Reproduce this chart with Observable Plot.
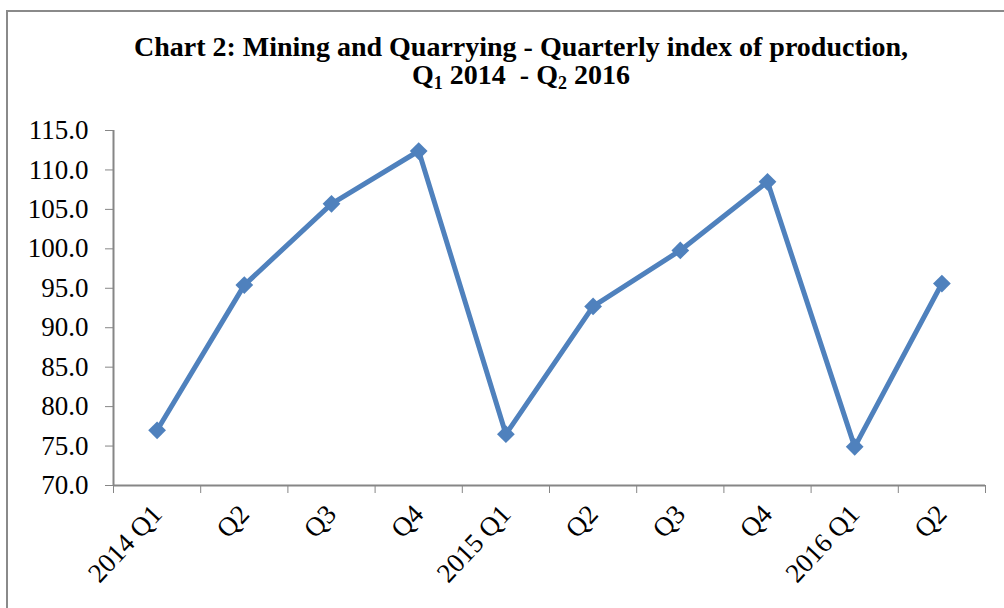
<!DOCTYPE html>
<html>
<head>
<meta charset="utf-8">
<script src="https://cdn.jsdelivr.net/npm/d3@7"></script>
<script src="https://cdn.jsdelivr.net/npm/@observablehq/plot@0.6"></script>
<style>
  html, body { margin: 0; padding: 0; background: white; }
  #wrap { position: relative; width: 1004px; height: 608px; overflow: hidden; background: white; }
  #border { position: absolute; left: 6px; top: 10px; right: -10px; bottom: -10px;
            border-left: 2px solid #8a8a8a; border-top: 2px solid #8a8a8a; pointer-events: none; }
  #title { height: 110px; box-sizing: border-box; padding-top: 33px; padding-left: 38px;
           text-align: center; font-family: "Liberation Serif", "Times New Roman", serif;
           font-weight: bold; font-size: 28px; line-height: 28px; color: black; }
  #title sub { font-size: 18px; line-height: 0; vertical-align: -5px; }
  #chart svg { display: block; }
</style>
</head>
<body>
<div id="wrap">
  <div id="title">Chart 2: Mining and Quarrying - Quarterly index of production,<br>Q<sub>1</sub> 2014&nbsp; - Q<sub>2</sub> 2016</div>
  <div id="chart"></div>
  <div id="border"></div>
</div>
<script>
const categories = ["2014 Q1", "Q2", "Q3", "Q4", "2015 Q1", "Q2", "Q3", "Q4", "2016 Q1", "Q2"];
const values = [77.0, 95.4, 105.7, 112.4, 76.5, 92.7, 99.8, 108.5, 74.9, 95.6];
const yTicks = [70, 75, 80, 85, 90, 95, 100, 105, 110, 115];

const data = values.map((v, i) => ({pos: i + 0.5, value: v, label: categories[i]}));
const boundaries = d3.range(0, categories.length + 1);
const centers = categories.map((_, i) => i + 0.5);

const chart = Plot.plot({
  width: 1004,
  height: 498,
  marginTop: 20,
  marginBottom: 123,
  marginLeft: 113,
  marginRight: 19,
  style: {fontFamily: "'Liberation Serif', 'Times New Roman', serif", fontSize: "27px", color: "black", background: "white"},
  x: {domain: [0, categories.length], axis: null},
  y: {domain: [70, 115], axis: null},
  marks: [
    Plot.axisY({ticks: yTicks, tickFormat: d => d.toFixed(1), tickSize: 8, tickPadding: 17, stroke: "#868686", fill: "black", fontSize: 27, label: null}),
    Plot.axisX({ticks: boundaries, tickFormat: () => "", tickSize: 8, stroke: "#868686", label: null}),
    Plot.axisX({ticks: centers, tickFormat: d => categories[Math.floor(d)], tickSize: 0, tickPadding: 24, tickRotate: -47, fill: "black", fontSize: 27, label: null}),
    Plot.ruleY([70], {stroke: "#868686", strokeWidth: 2}),
    Plot.ruleX([0], {stroke: "#868686", strokeWidth: 2}),
    Plot.line(data, {x: "pos", y: "value", stroke: "#4F81BD", strokeWidth: 5}),
    Plot.dot(data, {x: "pos", y: "value", symbol: "diamond2", r: 8, fill: "#4F81BD", stroke: "none"})
  ]
});
document.getElementById("chart").appendChild(chart);
</script>
</body>
</html>
